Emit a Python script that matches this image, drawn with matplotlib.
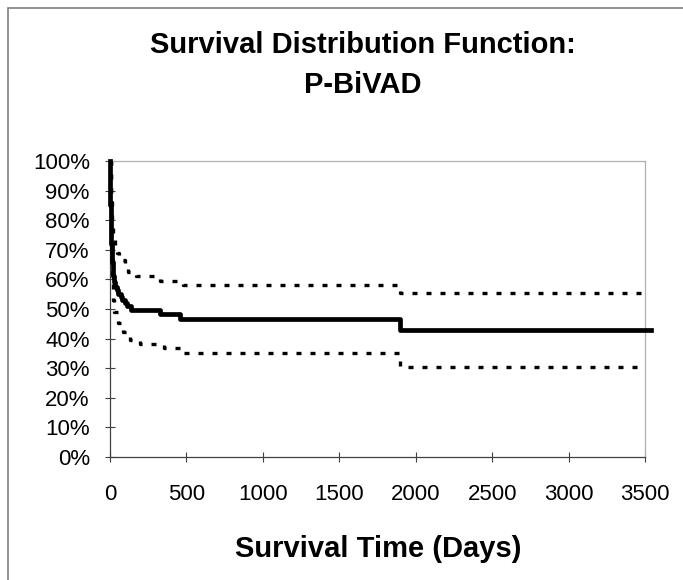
import matplotlib
matplotlib.use('Agg')
import matplotlib.pyplot as plt
from matplotlib.ticker import PercentFormatter, MultipleLocator
from matplotlib.patches import Rectangle

plt.rcParams['font.family'] = ['Liberation Sans', 'DejaVu Sans']

# Curva de supervivencia (Kaplan-Meier) y bandas de confianza
t_surv = [0, 1, 2, 3, 4, 6, 8, 11, 14, 18, 22, 28, 35, 45, 55, 70, 80, 95, 110,
          140, 330, 460, 1895, 3540]
surv = [1.00, 0.95, 0.90, 0.85, 0.80, 0.76, 0.72, 0.69, 0.66, 0.63, 0.61, 0.59,
        0.575, 0.565, 0.55, 0.54, 0.53, 0.52, 0.51, 0.497, 0.482, 0.466, 0.430, 0.430]

t_upper = [0, 8, 15, 22, 33, 45, 60, 95, 118, 170, 330, 480, 1895, 3500]
upper = [1.00, 0.86, 0.79, 0.75, 0.716, 0.69, 0.665, 0.645, 0.625, 0.611, 0.595,
         0.581, 0.555, 0.555]

t_lower = [0, 5, 10, 18, 25, 52, 85, 131, 196, 350, 460, 1895, 3500]
lower = [1.00, 0.70, 0.60, 0.53, 0.49, 0.453, 0.422, 0.395, 0.382, 0.368, 0.351,
         0.304, 0.304]

fig = plt.figure(figsize=(6.83, 5.80), dpi=100)
ax = fig.add_axes([110 / 683, 1 - 457 / 580, 535 / 683, 296 / 580])

dots = (1.5, 2.7)
ax.plot(t_upper, upper, drawstyle='steps-post', color='black', lw=2.4,
        linestyle=(0, dots), zorder=2)
ax.plot(t_lower, lower, drawstyle='steps-post', color='black', lw=2.4,
        linestyle=(0, dots), zorder=2)
ax.plot(t_surv, surv, drawstyle='steps-post', color='black', lw=3.4,
        zorder=3, clip_on=False)

ax.set_xlim(0, 3500)
ax.set_ylim(0, 1)
ax.xaxis.set_major_locator(MultipleLocator(500))
ax.yaxis.set_major_locator(MultipleLocator(0.1))
ax.yaxis.set_major_formatter(PercentFormatter(1.0, decimals=0))
ax.tick_params(axis='both', direction='inout', length=7, width=0.8,
               color='#404040', labelsize=16)
ax.tick_params(axis='y', pad=11)
ax.tick_params(axis='x', pad=16)

for side in ['left', 'bottom']:
    ax.spines[side].set_color('#404040')
    ax.spines[side].set_linewidth(0.9)
for side in ['top', 'right']:
    ax.spines[side].set_color('#b0b0b0')
    ax.spines[side].set_linewidth(0.9)

fig.text(363 / 683, 1 - 45 / 580, 'Survival Distribution Function:',
         ha='center', va='center', fontsize=21, fontweight='bold')
fig.text(363 / 683, 1 - 85 / 580, 'P-BiVAD',
         ha='center', va='center', fontsize=21, fontweight='bold')
fig.text(378 / 683, 1 - 549 / 580, 'Survival Time (Days)',
         ha='center', va='center', fontsize=21, fontweight='bold')

# borde del area del grafico
fig.patches.append(Rectangle((8 / 683, -0.1), 1.1, 1.1 - 8 / 580,
                             transform=fig.transFigure, fill=False,
                             edgecolor='#808080', lw=1.2))

fig.savefig('out.png', dpi=100)
